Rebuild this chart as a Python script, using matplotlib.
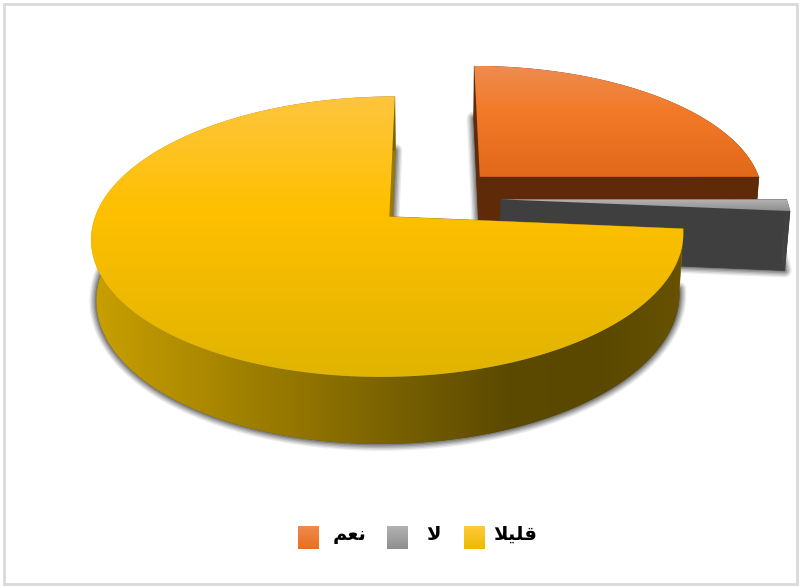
import numpy as np
import matplotlib
matplotlib.use('Agg')
import matplotlib.pyplot as plt
from matplotlib.colors import LinearSegmentedColormap
from matplotlib.patches import Polygon, Rectangle

# slices, clockwise from 12 o'clock
categories = ['نعم', 'لا', 'قليلا']
values = [25.0, 1.4, 73.6]
legend_order = ['قليلا', 'لا', 'نعم']

# matplotlib does no arabic shaping, so the joined glyphs go in visual order
shaped = {
    'نعم': '\uFEE2\uFECC\uFEE7',
    'لا': '\uFEFB',
    'قليلا': '\uFEFC\uFEF4\uFEE0\uFED7',
}

explode = [0.233, 0.235, 0.205]
top_colors = [
    [(0, '#EE8C50'), (0.4, '#F27A28'), (1, '#E2681A')],
    [(0, '#B4B4B4'), (0.4, '#A5A5A5'), (1, '#8E8E8E')],
    [(0, '#FDC53F'), (0.4, '#FFC000'), (1, '#E0B400')],
]
side_colors = [
    [(0, '#5F2A08'), (1, '#5F2A08')],
    [(0, '#474747'), (1, '#3C3C3C')],
    [(0, '#C9A000'), (0.7, '#5C4A00'), (0.85, '#5A4800'), (1, '#665200')],
]
wall_colors = ['#5F2A08', '#3F3F3F', '#9A7A00']
legend_colors = {
    'نعم': [(0, '#F08A4E'), (1, '#E96F1E')],
    'لا': [(0, '#B2B2B2'), (1, '#8F8F8F')],
    'قليلا': [(0, '#FFCB3A'), (1, '#EDB900')],
}

# camera for the pie, units are pixels on the figure
CX, CY = 433.6, 198
RX, KY, H = 287, 132, 60
P, YAW, Q = 0.14, 0.004, 0.015


def project(wx, wy, z=0.0):
    s = 1 / (1 + P * wy + YAW * wx + Q * z)
    return CX + RX * wx * s, CY - KY * wy * s + H * z * s


def fill_gradient(ax, xy, stops, vertical=True, zorder=1):
    # gradient image clipped to the polygon
    xy = np.asarray(xy)
    poly = Polygon(xy, closed=True, fc='none', ec='none', zorder=zorder)
    ax.add_patch(poly)
    g = np.linspace(0, 1, 256)
    g = g[:, None] if vertical else g[None, :]
    cmap = LinearSegmentedColormap.from_list('ramp', stops)
    im = ax.imshow(g, cmap=cmap, aspect='auto', interpolation='bilinear', zorder=zorder,
                   extent=(xy[:, 0].min(), xy[:, 0].max(), xy[:, 1].max(), xy[:, 1].min()))
    im.set_clip_path(poly)


def draw_slice(ax, a0, a1, e, top, side, wall, zorder):
    mid = np.radians((a0 + a1) / 2)
    ox, oy = e * np.cos(mid), e * np.sin(mid)
    t = np.radians(np.linspace(a0, a1, 200))
    wx, wy = ox + np.cos(t), oy + np.sin(t)

    top_arc = np.column_stack(project(wx, wy))
    bot_arc = np.column_stack(project(wx, wy, 1.0))
    apex_top = np.array(project(ox, oy))
    apex_bot = np.array(project(ox, oy, 1.0))

    # soft shadow under the slice
    bottom = np.vstack([apex_bot, bot_arc])
    for lw, a in zip((10, 8, 6, 4, 2), (0.1, 0.14, 0.18, 0.24, 0.3)):
        ax.add_patch(Polygon(bottom, closed=True, fc='#404040', ec='#404040', lw=lw, alpha=a,
                             joinstyle='round', zorder=zorder))

    # cut faces
    for arc_t, arc_b in ((top_arc[0], bot_arc[0]), (top_arc[-1], bot_arc[-1])):
        ax.add_patch(Polygon([apex_top, arc_t, arc_b, apex_bot], closed=True, fc=wall, ec=wall,
                             lw=0.5, zorder=zorder + 0.1))

    # outer rim, then the top face
    rim = np.vstack([top_arc, bot_arc[::-1]])
    fill_gradient(ax, rim, side, vertical=False, zorder=zorder + 0.2)
    fill_gradient(ax, np.vstack([apex_top, top_arc]), top, zorder=zorder + 0.3)


fig = plt.figure(figsize=(8, 5.86), dpi=100)
ax = fig.add_axes([0, 0, 1, 1])

ax.add_patch(Rectangle((4, 3.5), 793, 580, fc='white', ec='#D9D9D9', lw=2, zorder=0))

# sweep angles from the values, drawn far slices first
angle = 90.0
for i, v in enumerate(values):
    sweep = v / sum(values) * 360
    draw_slice(ax, angle - sweep, angle, explode[i], top_colors[i], side_colors[i],
               wall_colors[i], zorder=1 + i)
    angle -= sweep

# legend row
key_x = [464, 387, 298]
label_x = [515, 433, 350]
for name, kx, lx in zip(legend_order, key_x, label_x):
    key = [(kx, 526), (kx + 21, 526), (kx + 21, 549), (kx, 549)]
    fill_gradient(ax, key, legend_colors[name], zorder=6)
    ax.text(lx, 534, shaped[name], ha='center', va='center', fontsize=14, fontweight='bold',
            family='DejaVu Sans', color='black', zorder=6)

ax.set_xlim(0, 800)
ax.set_ylim(586, 0)
ax.axis('off')

fig.savefig('out.png', dpi=100)
